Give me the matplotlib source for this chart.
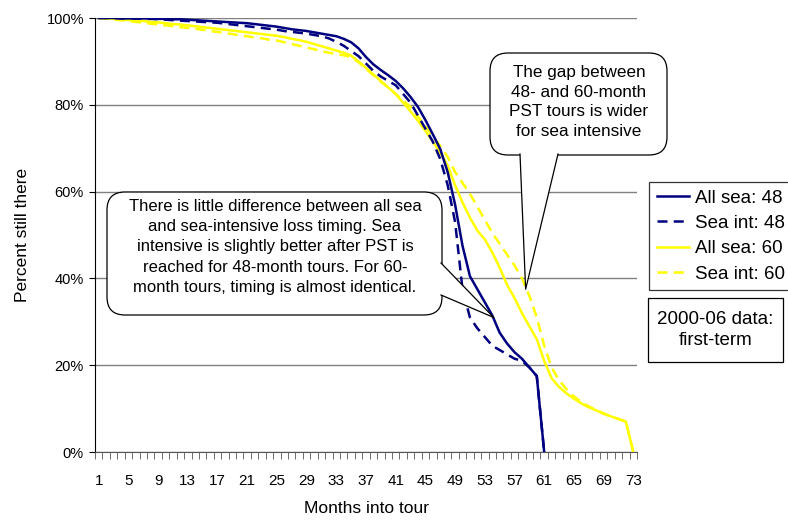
import numpy as np
import matplotlib
matplotlib.use("Agg")
import matplotlib.pyplot as plt
from matplotlib.patches import FancyBboxPatch, Polygon, Rectangle

plt.rcParams["font.family"] = ["Liberation Sans", "DejaVu Sans"]

# ── données (% encore présents, mois 1..73) ──
months = np.arange(1, 74)

all_sea_48 = [
    100, 100, 100, 99.9, 99.9, 99.9, 99.9, 99.9, 99.8, 99.8,
    99.7, 99.7, 99.6, 99.5, 99.4, 99.3, 99.2, 99.1, 99.0, 98.9,
    98.8, 98.6, 98.4, 98.2, 98.0, 97.7, 97.4, 97.2, 97.0, 96.7,
    96.4, 96.1, 95.8, 95.2, 94.4, 93.0, 91.0, 89.3, 88.0, 86.8,
    85.5, 83.8, 81.8, 79.5, 76.5, 73.2, 69.8, 64.5, 57.0, 47.5,
    40.5, 37.5, 34.5, 31.5, 27.5, 25.0, 23.0, 21.5, 19.5, 17.5,
    0,
]
sea_int_48 = [
    100, 100, 100, 99.9, 99.9, 99.9, 99.8, 99.8, 99.7, 99.6,
    99.5, 99.4, 99.3, 99.2, 99.1, 99.0, 98.9, 98.7, 98.5, 98.3,
    98.1, 97.9, 97.7, 97.5, 97.3, 97.0, 96.8, 96.6, 96.4, 96.1,
    95.8, 95.3, 94.5, 93.6, 92.4, 91.2, 89.5, 87.8, 86.5, 85.5,
    84.5, 82.5, 80.5, 77.5, 74.5, 71.5, 67.5, 61.5, 53.0, 37.5,
    31.0, 28.5, 26.5, 24.5, 23.5, 22.5, 21.5, 21.0, 19.5, 17.5,
    0,
]
all_sea_60 = [
    100, 99.9, 99.8, 99.7, 99.5, 99.4, 99.3, 99.1, 99.0, 98.8,
    98.6, 98.5, 98.3, 98.1, 97.9, 97.7, 97.5, 97.3, 97.1, 96.9,
    96.7, 96.5, 96.3, 96.1, 95.9, 95.6, 95.2, 94.9, 94.5, 94.0,
    93.5, 93.0, 92.5, 92.0, 91.3, 90.0, 88.5, 87.0, 85.5, 84.0,
    82.5, 80.5, 78.5, 76.3, 74.0, 71.5, 69.0, 66.0, 61.5, 57.5,
    54.0, 51.0, 49.0, 46.0, 42.5, 38.5, 35.5, 32.0, 29.0, 26.0,
    21.0, 17.0, 15.0, 13.5, 12.3, 11.2, 10.3, 9.6, 8.8, 8.2,
    7.6, 7.0, 0,
]
sea_int_60 = [
    100, 99.8, 99.6, 99.5, 99.3, 99.1, 98.9, 98.7, 98.5, 98.3,
    98.1, 97.9, 97.7, 97.5, 97.3, 97.0, 96.8, 96.5, 96.3, 96.0,
    95.8, 95.5, 95.3, 95.0, 94.8, 94.4, 94.0, 93.6, 93.2, 92.8,
    92.4, 92.0, 91.7, 91.4, 91.0, 89.8, 88.3, 86.8, 85.3, 84.0,
    82.5, 81.0, 79.5, 77.3, 75.0, 72.8, 70.5, 68.0, 64.5, 62.0,
    59.5, 56.5, 53.5, 50.5, 48.0, 45.5, 43.0, 40.0, 36.0, 31.0,
    24.5, 19.5, 16.5, 14.5, 12.8, 11.5, 10.5, 9.7, 8.9, 8.2,
    7.6, 7.0, 0,
]

x_ticks = list(range(1, 74, 4))
y_ticks = [0, 20, 40, 60, 80, 100]

note_left = ("There is little difference between all sea\n"
             "and sea-intensive loss timing. Sea\n"
             "intensive is slightly better after PST is\n"
             "reached for 48-month tours. For 60-\n"
             "month tours, timing is almost identical.")
note_right = ("The gap between\n48- and 60-month\n"
              "PST tours is wider\nfor sea intensive")
note_box = "2000-06 data:\nfirst-term"

W, H = 788, 521
fig = plt.figure(figsize=(W / 100, H / 100), dpi=100)
ax = fig.add_axes([95 / W, 1 - 452 / H, (637 - 95) / W, (452 - 18) / H])

NAVY, YEL = "#000080", "#FFFF00"
lw = 1.8
ax.plot(months[:61], all_sea_48, color=NAVY, lw=lw, label="All sea: 48", zorder=4)
ax.plot(months[:61], sea_int_48, color=NAVY, lw=lw, dashes=(4, 2.5), label="Sea int: 48", zorder=4)
ax.plot(months, all_sea_60, color=YEL, lw=lw, label="All sea: 60", zorder=3)
ax.plot(months, sea_int_60, color=YEL, lw=lw, dashes=(4, 2.5), label="Sea int: 60", zorder=3)

ax.set_xlim(0.5, 73.5)
ax.set_ylim(0, 100)
ax.set_yticks(y_ticks)
ax.set_yticklabels([f"{v}%" for v in y_ticks], fontsize=10.5)
ax.set_xticks(x_ticks)
ax.set_xticklabels([str(v) for v in x_ticks], fontsize=11)
ax.set_xticks(np.arange(0.5, 74, 1), minor=True)
ax.tick_params(axis="x", which="major", length=0, pad=16)
ax.tick_params(axis="x", which="minor", length=5, color="#555555", direction="out")
ax.tick_params(axis="y", length=4, color="black", direction="out", pad=4)
ax.yaxis.grid(True, color="#808080", lw=1.0)
ax.set_axisbelow(True)
for s in ("top", "right"):
    ax.spines[s].set_visible(False)
ax.spines["left"].set_color("black")
ax.spines["bottom"].set_color("#555555")
ax.set_xlabel("Months into tour", fontsize=12.5, labelpad=9)
ax.set_ylabel("Percent still there", fontsize=12.5, labelpad=12)

leg = fig.legend(loc="upper left", bbox_to_anchor=(649 / W, 1 - 182 / H),
                 borderaxespad=0, fontsize=13.5, frameon=True, fancybox=False,
                 handlelength=1.75, handletextpad=0.3, borderpad=0.4,
                 labelspacing=0.44)
leg.get_frame().set_edgecolor("black")
leg.get_frame().set_linewidth(0.9)

# ── couche d'annotation en pixels ──
ov = fig.add_axes([0, 0, 1, 1], zorder=5)
ov.set_xlim(0, W)
ov.set_ylim(H, 0)
ov.axis("off")


def to_ov(xd, yd):
    p = ax.transData.transform((xd, yd))
    return ov.transData.inverted().transform(p)


def bubble(x0, y0, x1, y1, base_a, base_b, tip, r=18):
    ov.add_patch(FancyBboxPatch((x0, y0), x1 - x0, y1 - y0,
                                boxstyle=f"round,pad=0,rounding_size={r}",
                                fc="white", ec="black", lw=0.9))
    ov.add_patch(Polygon([base_a, tip, base_b], closed=True, fc="white",
                         ec="none", zorder=3))
    ov.plot([base_a[0], tip[0], base_b[0]], [base_a[1], tip[1], base_b[1]],
            color="black", lw=0.9, zorder=4)


tip1 = to_ov(54.2, 31.0)
bubble(107, 192, 442, 315, (441, 263), (441, 295), tip1)
ov.text(275, 247, note_left, ha="center", va="center", fontsize=12,
        linespacing=1.45, zorder=5)

tip2 = to_ov(58.5, 37.5)
bubble(490, 53, 667, 155, (520, 154), (558, 154), tip2)
ov.text(579, 102, note_right, ha="center", va="center", fontsize=12.3,
        linespacing=1.4, zorder=5)

ov.add_patch(Rectangle((648, 298), 135, 64, fc="white", ec="black", lw=0.9))
ov.text(715.5, 330, note_box, ha="center", va="center", fontsize=13.5,
        linespacing=1.35)

fig.savefig("out.png", dpi=100)
